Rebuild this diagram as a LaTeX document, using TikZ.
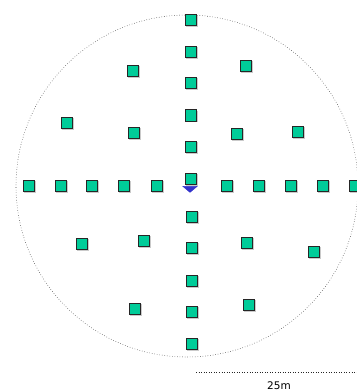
\documentclass[tikz,border=0pt]{standalone}
\usepackage{fontspec}
\setmainfont{DejaVu Sans}
\usetikzlibrary{shapes.geometric,shadows}
\definecolor{sensor}{RGB}{0,204,153}
\definecolor{src}{RGB}{51,51,204}
\begin{document}
\begin{tikzpicture}[x=1pt,y=-1pt,
  sq/.style={draw=black!85,line width=0.7pt,fill=sensor,minimum size=11.5pt,inner sep=0pt,
    drop shadow={shadow xshift=1pt,shadow yshift=-1pt,fill=black!35,opacity=0.6}},
  ring/.style={draw=black!75,dotted,line width=0.55pt},
  scalebar/.style={draw=black!85,dotted,line width=0.55pt},
  lbl/.style={font=\fontsize{10.5}{12}\selectfont,inner sep=0pt}]
\useasboundingbox (0,0) rectangle (357,392);
\draw[ring] (187,186) circle (171);
% vertical line of sensors
\node[sq] (v1) at (191,20) {};
\node[sq] (v2) at (191,52) {};
\node[sq] (v3) at (191,83) {};
\node[sq] (v4) at (191,115.5) {};
\node[sq] (v5) at (191,147) {};
\node[sq] (v6) at (191,179) {};
\node[sq] (v7) at (192,217) {};
\node[sq] (v8) at (192,248) {};
\node[sq] (v9) at (192,281) {};
\node[sq] (v10) at (192,312) {};
\node[sq] (v11) at (192,344) {};
% horizontal line of sensors
\node[sq] (h1) at (29,186) {};
\node[sq] (h2) at (61,186) {};
\node[sq] (h3) at (92,186) {};
\node[sq] (h4) at (124,186) {};
\node[sq] (h5) at (157,186) {};
\node[sq] (h6) at (227,186) {};
\node[sq] (h7) at (259,186) {};
\node[sq] (h8) at (291,186) {};
\node[sq] (h9) at (323,186) {};
\node[sq] (h10) at (355,186) {};
% scattered sensors
\node[sq] (s1) at (133,71) {};
\node[sq] (s2) at (246,66) {};
\node[sq] (s3) at (67,123) {};
\node[sq] (s4) at (134,133) {};
\node[sq] (s5) at (237,134) {};
\node[sq] (s6) at (298,132) {};
\node[sq] (s7) at (82,244) {};
\node[sq] (s8) at (144,241) {};
\node[sq] (s9) at (247,243) {};
\node[sq] (s10) at (314,252) {};
\node[sq] (s11) at (135,309) {};
\node[sq] (s12) at (249,305) {};
% source
\node[isosceles triangle,isosceles triangle apex angle=100,shape border rotate=-90,
  fill=src,draw=src,inner sep=0pt,minimum height=6pt,minimum width=12pt] (src) at (190,189) {};
% scale bar
\coordinate (sb1) at (196,372);
\coordinate (sb2) at (357,372);
\draw[scalebar] (sb1) -- (sb2);
\node[lbl] (scl) at (279,386) {25m};
\end{tikzpicture}
\end{document}
